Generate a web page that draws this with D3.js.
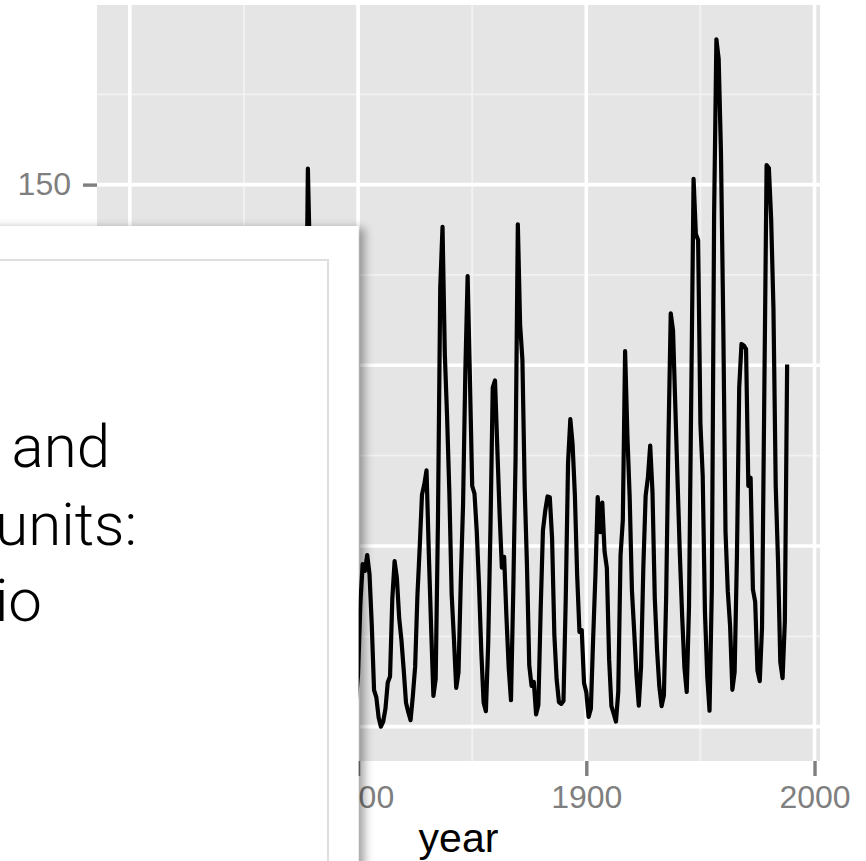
<!DOCTYPE html>
<html>
<head>
<meta charset="utf-8">
<script src="https://cdn.jsdelivr.net/npm/d3@7"></script>
<style>
  html, body { margin: 0; padding: 0; background: #fff; }
  svg { display: block; }
</style>
</head>
<body>
<svg id="chart" width="866" height="861"></svg>
<script>
// sunspot.year (1700–1988)
const startYear = 1700;
const sunspots = [
  5, 11, 16, 23, 36, 58, 29, 20, 10, 8,
  3, 0, 0, 2, 11, 27, 47, 63, 60, 39,
  28, 26, 22, 11, 21, 40, 78, 122, 103, 73,
  47, 35, 11, 5, 16, 34, 70, 81, 111, 101,
  73, 40, 20, 16, 5, 11, 22, 40, 60, 80.9,
  83.4, 47.7, 47.8, 30.7, 12.2, 9.6, 10.2, 32.4, 47.6, 54.0,
  62.9, 85.9, 61.2, 45.1, 36.4, 20.9, 11.4, 37.8, 69.8, 106.1,
  100.8, 81.6, 66.5, 34.8, 30.6, 7.0, 19.8, 92.5, 154.4, 125.9,
  84.8, 68.1, 38.5, 22.8, 10.2, 24.1, 82.9, 132.0, 130.9, 118.1,
  89.9, 66.6, 60.0, 46.9, 41.0, 21.3, 16.0, 6.4, 4.1, 6.8,
  14.5, 34.0, 45.0, 43.1, 47.5, 42.2, 28.1, 10.1, 8.1, 2.5,
  0.0, 1.4, 5.0, 12.2, 13.9, 35.4, 45.8, 41.1, 30.1, 23.9,
  15.6, 6.6, 4.0, 1.8, 8.5, 16.6, 36.3, 49.6, 64.2, 67.0,
  70.9, 47.8, 27.5, 8.5, 13.2, 56.9, 121.5, 138.3, 103.2, 85.7,
  64.6, 36.7, 24.2, 10.7, 15.0, 40.1, 61.5, 98.5, 124.7, 96.3,
  66.6, 64.5, 54.1, 39.0, 20.6, 6.7, 4.3, 22.7, 54.8, 93.8,
  95.8, 77.2, 59.1, 44.0, 47.0, 30.5, 16.3, 7.3, 37.6, 74.0,
  139.0, 111.2, 101.6, 66.2, 44.7, 17.0, 11.3, 12.4, 3.4, 6.0,
  32.3, 54.3, 59.7, 63.7, 63.5, 52.2, 25.4, 13.1, 6.8, 6.3,
  7.1, 35.6, 73.0, 85.1, 78.0, 64.0, 41.8, 26.2, 26.7, 12.1,
  9.5, 2.7, 5.0, 24.4, 42.0, 63.5, 53.8, 62.0, 48.5, 43.9,
  18.6, 5.7, 3.6, 1.4, 9.6, 47.4, 57.1, 103.9, 80.6, 63.6,
  37.6, 26.1, 14.2, 5.8, 16.7, 44.3, 63.9, 69.0, 77.8, 64.9,
  35.7, 21.2, 11.1, 5.7, 8.7, 36.1, 79.7, 114.4, 109.6, 88.8,
  67.8, 47.5, 30.6, 16.3, 9.6, 33.2, 92.6, 151.6, 136.3, 134.7,
  83.9, 69.4, 31.5, 13.9, 4.4, 38.0, 141.7, 190.2, 184.8, 159.0,
  112.3, 53.9, 37.5, 27.9, 10.2, 15.1, 47.0, 93.8, 105.9, 105.5,
  104.5, 66.6, 68.9, 38.0, 34.5, 15.5, 12.6, 27.5, 92.5, 155.4,
  154.6, 140.4, 115.9, 66.6, 45.9, 17.9, 13.4, 29.2, 100.2
];
const xMajorTicks = [1700, 1800, 1900, 2000];
const xMinorTicks = [1750, 1850, 1950];
const yMajorTicks = [0, 50, 100, 150];
const yMinorTicks = [25, 75, 125, 175];
const xTitle = "year";
const boxLines = ["and", "units:", "io"];

const data = sunspots.map((v, i) => ({ year: startYear + i, value: v }));

const svg = d3.select("#chart");
const panel = { left: 97, right: 820, top: 5, bottom: 761 };

// ggplot-style 5% expansion
const xExt = d3.extent(data, d => d.year);
const yExt = [0, d3.max(data, d => d.value)];
const xPad = (xExt[1] - xExt[0]) * 0.05;
const yPad = (yExt[1] - yExt[0]) * 0.05;

const x = d3.scaleLinear().domain([xExt[0] - xPad, xExt[1] + xPad]).range([panel.left, panel.right]);
const y = d3.scaleLinear().domain([yExt[0] - yPad, yExt[1] + yPad]).range([panel.bottom, panel.top]);

const font = "'Liberation Sans', Arial, Helvetica, sans-serif";

// panel background
svg.append("rect")
  .attr("x", panel.left).attr("y", panel.top)
  .attr("width", panel.right - panel.left).attr("height", panel.bottom - panel.top)
  .attr("fill", "#e5e5e5");

// minor grid
svg.append("g").selectAll("line").data(yMinorTicks).join("line")
  .attr("x1", panel.left).attr("x2", panel.right)
  .attr("y1", d => y(d)).attr("y2", d => y(d))
  .attr("stroke", "#f2f2f2").attr("stroke-width", 1.8);
svg.append("g").selectAll("line").data(xMinorTicks).join("line")
  .attr("y1", panel.top).attr("y2", panel.bottom)
  .attr("x1", d => x(d)).attr("x2", d => x(d))
  .attr("stroke", "#f2f2f2").attr("stroke-width", 1.8);
// major grid
svg.append("g").selectAll("line").data(yMajorTicks).join("line")
  .attr("x1", panel.left).attr("x2", panel.right)
  .attr("y1", d => y(d)).attr("y2", d => y(d))
  .attr("stroke", "#ffffff").attr("stroke-width", 3.6);
svg.append("g").selectAll("line").data(xMajorTicks).join("line")
  .attr("y1", panel.top).attr("y2", panel.bottom)
  .attr("x1", d => x(d)).attr("x2", d => x(d))
  .attr("stroke", "#ffffff").attr("stroke-width", 3.6);

// line
const line = d3.line().x(d => x(d.year)).y(d => y(d.value));
svg.append("path").datum(data)
  .attr("d", line)
  .attr("fill", "none")
  .attr("stroke", "#000")
  .attr("stroke-width", 4.2)
  .attr("stroke-linejoin", "round");

// axes (ggplot style: grey ticks, grey labels)
const xAxis = d3.axisBottom(x).tickValues(xMajorTicks).tickFormat(d3.format("d")).tickSize(15).tickPadding(9);
const gx = svg.append("g").attr("transform", `translate(0,${panel.bottom})`).call(xAxis);
gx.select(".domain").remove();
gx.selectAll(".tick line").attr("stroke", "#7f7f7f").attr("stroke-width", 3.4);
gx.selectAll(".tick text").attr("fill", "#7f7f7f").attr("font-family", font).attr("font-size", 32);

const yAxis = d3.axisLeft(y).tickValues(yMajorTicks).tickSize(14).tickPadding(12);
const gy = svg.append("g").attr("transform", `translate(${panel.left},0)`).call(yAxis);
gy.select(".domain").remove();
gy.selectAll(".tick line").attr("stroke", "#7f7f7f").attr("stroke-width", 3.4);
gy.selectAll(".tick text").attr("fill", "#7f7f7f").attr("font-family", font).attr("font-size", 32);

// x title
svg.append("text")
  .attr("x", (panel.left + panel.right) / 2)
  .attr("y", 852)
  .attr("text-anchor", "middle")
  .attr("font-family", font)
  .attr("font-size", 41)
  .attr("fill", "#000")
  .text(xTitle);

// overlay box with shadow
const defs = svg.append("defs");
const f = defs.append("filter").attr("id", "shadow")
  .attr("x", "-20%").attr("y", "-20%").attr("width", "150%").attr("height", "150%");
f.append("feDropShadow")
  .attr("dx", 6).attr("dy", 2).attr("stdDeviation", 5)
  .attr("flood-color", "#000").attr("flood-opacity", 0.36);

svg.append("rect")
  .attr("x", -40).attr("y", 226)
  .attr("width", 398.5).attr("height", 700)
  .attr("fill", "#fff")
  .attr("filter", "url(#shadow)");

svg.append("rect")
  .attr("x", -40).attr("y", 260)
  .attr("width", 368).attr("height", 700)
  .attr("fill", "none")
  .attr("stroke", "#dedede")
  .attr("stroke-width", 2);

const boxText = svg.append("g")
  .attr("font-family", "Roboto, 'Helvetica Neue', sans-serif")
  .attr("font-weight", 300)
  .attr("font-size", 60)
  .attr("fill", "#000");
const lineEnds = [110, 137, 42];
const lineBase = [467, 545, 621];
boxText.selectAll("text").data(boxLines).join("text")
  .attr("x", (d, i) => lineEnds[i])
  .attr("y", (d, i) => lineBase[i])
  .attr("text-anchor", "end")
  .text(d => d);
</script>
</body>
</html>
